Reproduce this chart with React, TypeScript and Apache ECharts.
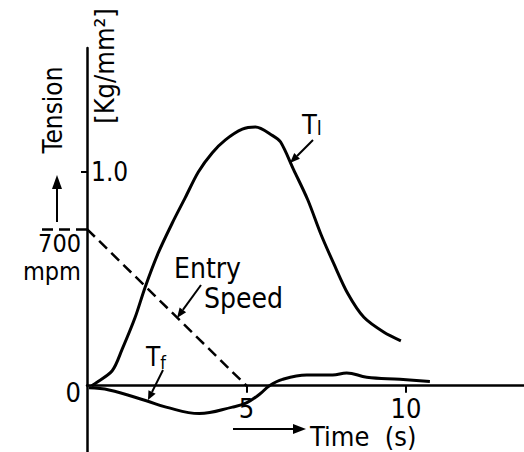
import React, { useEffect, useRef } from "react";
import * as echarts from "echarts";

// Time axis (s)
const xMin = 0;
const xMax = 13.7;
// Tension axis (Kg/mm^2)
const yMin = -0.31;
const yMax = 1.58;
// Entry speed (mpm) per unit of tension on the drawing
const speedScale = 955;

const xTicks = [5, 10];
const yTicks = [1.0];
const speedTicks = [700];
const originTicks = [0];

// T1 tension curve
const t1Time = [0.15, 0.25, 0.79, 1.1, 1.51, 1.82, 2.23, 2.67, 3.08, 3.49, 3.93, 4.34, 4.87, 5.28, 5.82, 6.07, 6.48, 6.92, 7.33, 7.74, 8.18, 8.68, 9.31, 9.84];
const t1Value = [0.0, 0.01, 0.07, 0.17, 0.32, 0.46, 0.62, 0.76, 0.88, 1.0, 1.09, 1.15, 1.2, 1.21, 1.17, 1.14, 1.01, 0.87, 0.71, 0.57, 0.43, 0.32, 0.25, 0.21];

// Tf tension curve
const tfTime = [0.06, 0.69, 1.86, 2.48, 3.52, 4.56, 5.0, 5.41, 5.72, 6.13, 6.89, 7.7, 8.14, 8.77, 9.81, 10.75];
const tfValue = [-0.01, -0.02, -0.07, -0.1, -0.13, -0.1, -0.08, -0.04, 0, 0.03, 0.05, 0.05, 0.06, 0.04, 0.03, 0.02];

// Entry speed (mpm)
const speedTime = [0, 5];
const speedValue = [700, 0];

const FONT = "'DejaVu Sans Condensed', 'DejaVu Sans', sans-serif";
const INK = "#000";

const W = 524;
const H = 452;
const GRID_LEFT = 87;
const GRID_TOP = 48;

function arrow(x1: number, y1: number, x2: number, y2: number, head = 9, w = 4) {
  const a = Math.atan2(y2 - y1, x2 - x1);
  const bx = x2 - head * Math.cos(a);
  const by = y2 - head * Math.sin(a);
  const px = -Math.sin(a) * w;
  const py = Math.cos(a) * w;
  return [
    { type: "line", shape: { x1, y1, x2: bx, y2: by }, style: { stroke: INK, lineWidth: 2 } },
    {
      type: "polygon",
      shape: { points: [[x2, y2], [bx + px, by + py], [bx - px, by - py]] },
      style: { fill: INK },
    },
  ];
}

export default function App() {
  const ref = useRef<HTMLDivElement>(null);
  useEffect(() => {
    if (!ref.current) return;
    const chart = echarts.init(ref.current, null, { renderer: "svg" });
    const zip = (xs: number[], ys: number[]) => xs.map((x, i) => [x, ys[i]]);
    const plotH = H - GRID_TOP;
    const zeroY = GRID_TOP + (yMax / (yMax - yMin)) * plotH;
    chart.setOption({
      animation: false,
      backgroundColor: "#fff",
      textStyle: { fontFamily: FONT, color: INK },
      grid: [
        { left: GRID_LEFT, right: 0, top: GRID_TOP, bottom: 0, containLabel: false, outerBoundsMode: "none" },
        { left: GRID_LEFT, right: 0, top: GRID_TOP, bottom: H - zeroY, containLabel: false, outerBoundsMode: "none" },
      ],
      xAxis: [
        {
          type: "value",
          gridIndex: 0,
          min: xMin,
          max: xMax,
          splitLine: { show: false },
          axisLine: { onZero: true, lineStyle: { color: INK, width: 2.5 } },
          axisTick: { show: false },
          axisLabel: { show: false },
        },
        {
          type: "value",
          gridIndex: 1,
          min: xMin,
          max: xMax,
          splitLine: { show: false },
          axisLine: { show: false },
          axisTick: { show: true, customValues: xTicks, length: 7, lineStyle: { color: INK, width: 2 } },
          axisLabel: {
            customValues: xTicks,
            margin: 9,
            fontSize: 27,
            color: INK,
            fontFamily: FONT,
          },
        },
      ],
      yAxis: [
        {
          type: "value",
          gridIndex: 0,
          min: yMin,
          max: yMax,
          splitLine: { show: false },
          axisLine: { onZero: false, lineStyle: { color: INK, width: 2.5 } },
          axisTick: { show: true, customValues: yTicks, length: 6, lineStyle: { color: INK, width: 2 } },
          axisLabel: {
            customValues: yTicks,
            inside: true,
            margin: 4,
            fontSize: 26,
            color: INK,
            fontFamily: FONT,
            formatter: (v: number) => v.toFixed(1),
          },
        },
        {
          type: "value",
          gridIndex: 0,
          position: "left",
          min: yMin * speedScale,
          max: yMax * speedScale,
          splitLine: { show: false },
          axisLine: { show: false },
          axisTick: {
            show: true,
            customValues: speedTicks,
            length: 47,
            lineStyle: { color: INK, width: 2.5, type: [11, 6] },
          },
          axisLabel: {
            customValues: speedTicks,
            margin: 6,
            fontSize: 25,
            lineHeight: 28,
            color: INK,
            fontFamily: FONT,
            verticalAlign: "top",
            formatter: (v: number) => `${v}\nmpm`,
          },
        },
        {
          type: "value",
          gridIndex: 1,
          min: 0,
          max: yMax,
          position: "left",
          splitLine: { show: false },
          axisLine: { show: false },
          axisTick: { show: false },
          axisLabel: {
            customValues: originTicks,
            margin: 6,
            fontSize: 27,
            lineHeight: 14,
            color: INK,
            fontFamily: FONT,
            verticalAlign: "top",
          },
        },
      ],
      series: [
        {
          name: "T1",
          type: "line",
          data: zip(t1Time, t1Value),
          smooth: 0.3,
          showSymbol: false,
          lineStyle: { color: INK, width: 3 },
        },
        {
          name: "Tf",
          type: "line",
          data: zip(tfTime, tfValue),
          smooth: 0.4,
          showSymbol: false,
          lineStyle: { color: INK, width: 3 },
        },
        {
          name: "Entry Speed",
          type: "line",
          yAxisIndex: 1,
          data: zip(speedTime, speedValue),
          showSymbol: false,
          lineStyle: { color: INK, width: 2.5, type: [11, 6] },
        },
      ],
      graphic: [
        {
          type: "text",
          x: 53,
          y: 110,
          rotation: Math.PI / 2,
          style: { text: "Tension", fontSize: 26, fontFamily: FONT, fill: INK, align: "center", verticalAlign: "middle" },
        },
        ...arrow(57, 222, 57, 175, 14, 5),
        {
          type: "text",
          x: 104,
          y: 66,
          rotation: Math.PI / 2,
          style: { text: "[Kg/mm²]", fontSize: 27, fontFamily: FONT, fill: INK, align: "center", verticalAlign: "middle" },
        },
        {
          type: "text",
          x: 310,
          y: 436,
          style: { text: "Time  (s)", fontSize: 27, fontFamily: FONT, fill: INK, align: "left", verticalAlign: "middle" },
        },
        ...arrow(233, 429, 306, 429, 13, 5),
        {
          type: "text",
          x: 302,
          y: 124,
          style: {
            text: "{a|T}{b|l}",
            rich: {
              a: { fontSize: 27, fontFamily: FONT, fill: INK },
              b: { fontSize: 20, fontFamily: FONT, fill: INK, padding: [8, 0, 0, 0] },
            },
            verticalAlign: "middle",
          },
        },
        ...arrow(313, 140, 290, 163, 10, 4),
        {
          type: "text",
          x: 174,
          y: 268,
          style: { text: "Entry", fontSize: 28, fontFamily: FONT, fill: INK, verticalAlign: "middle" },
        },
        {
          type: "text",
          x: 204,
          y: 298,
          style: { text: "Speed", fontSize: 28, fontFamily: FONT, fill: INK, verticalAlign: "middle" },
        },
        ...arrow(201, 285, 177, 318, 10, 4),
        {
          type: "text",
          x: 146,
          y: 357,
          style: {
            text: "{a|T}{b|f}",
            rich: {
              a: { fontSize: 26, fontFamily: FONT, fill: INK },
              b: { fontSize: 18, fontFamily: FONT, fill: INK, padding: [10, 0, 0, 0] },
            },
            verticalAlign: "middle",
          },
        },
        ...arrow(163, 370, 148, 400, 9, 4),
      ],
    });
    return () => chart.dispose();
  }, []);
  return (
    <div
      ref={ref}
      style={{ position: "fixed", left: 0, top: 0, width: W, height: H, background: "#fff" }}
    />
  );
}
